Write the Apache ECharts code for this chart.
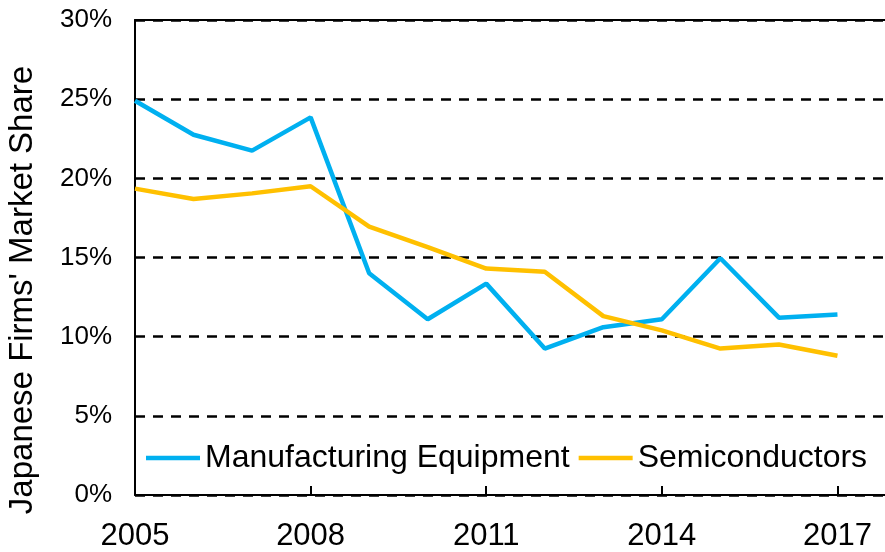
<!DOCTYPE html>
<html>
<head>
<meta charset="utf-8">
<title>Japanese Firms' Market Share</title>
<script src="https://cdn.jsdelivr.net/npm/echarts@6/dist/echarts.min.js"></script>
<style>
  html, body { margin: 0; padding: 0; background: #fff; overflow: hidden; }
  /* a little wider than the window: the frame runs on past the right edge like the original */
  #chart { width: 896px; height: 552px; }
</style>
</head>
<body>
<div id="chart"></div>
<script>
// data
const years = ['2005', '2006', '2007', '2008', '2009', '2010', '2011',
  '2012', '2013', '2014', '2015', '2016', '2017']
const equipment = [24.9, 22.75, 21.75, 23.85, 14.0, 11.1, 13.35, 9.25, 10.6, 11.1, 14.95, 11.2, 11.4]
const semiconductors = [19.35, 18.7, 19.05, 19.5, 16.95, 15.65, 14.3, 14.1, 11.3, 10.4, 9.25, 9.5, 8.8]
const yearTicks = [0, 3, 6, 9, 12] // indexes into years
const yTicks = [0, 5, 10, 15, 20, 25, 30]

const font = 'Liberation Sans, Arial, sans-serif'
const black = '#000'

const chart = echarts.init(document.getElementById('chart'))

// x is the year index; one extra year of room after 2017
const xMax = years.length

chart.setOption({
  backgroundColor: '#fff',
  animation: false,
  textStyle: { fontFamily: font, color: black },
  grid: {
    left: 135,
    top: 20,
    bottom: 57,
    right: 0,
    containLabel: false
  },
  legend: {
    left: 146,
    top: 442,
    padding: 0,
    icon: 'rect',
    itemWidth: 54,
    itemHeight: 4.5,
    itemGap: 9,
    textStyle: { fontSize: 32, color: black, fontFamily: font },
    data: ['Manufacturing Equipment', 'Semiconductors']
  },
  graphic: [{
    type: 'text',
    x: 23,
    y: 290,
    rotation: Math.PI / 2,
    style: {
      text: "Japanese Firms' Market Share",
      font: '33px ' + font,
      fill: black,
      align: 'center',
      verticalAlign: 'middle'
    }
  }],
  xAxis: [
    {
      type: 'value',
      min: 0,
      max: xMax,
      interval: 3,
      axisLine: { lineStyle: { color: black, width: 2 } },
      axisTick: { inside: true, length: 9, customValues: yearTicks, lineStyle: { color: black, width: 2 } },
      axisLabel: {
        customValues: yearTicks,
        fontSize: 31,
        margin: 26,
        color: black,
        formatter: (v) => years[v] || ''
      },
      splitLine: { show: false }
    },
    {
      // top frame line
      type: 'value',
      position: 'top',
      min: 0,
      max: xMax,
      axisLine: { show: true, lineStyle: { color: black, width: 2 } },
      axisTick: { show: false },
      axisLabel: { show: false },
      splitLine: { show: false }
    }
  ],
  yAxis: {
    type: 'value',
    min: yTicks[0],
    max: yTicks[yTicks.length - 1],
    interval: 5,
    axisLine: { show: true, lineStyle: { color: black, width: 2 } },
    axisTick: { show: false },
    axisLabel: { fontSize: 26, margin: 23, color: black, formatter: '{value}%' },
    splitLine: { lineStyle: { color: black, width: 2.5, type: [10, 8] } }
  },
  series: [
    {
      name: 'Manufacturing Equipment',
      type: 'line',
      data: equipment.map((v, i) => [i, v]),
      symbol: 'none',
      color: '#00B0F0',
      lineStyle: { width: 4.5, color: '#00B0F0' }
    },
    {
      name: 'Semiconductors',
      type: 'line',
      data: semiconductors.map((v, i) => [i, v]),
      symbol: 'none',
      color: '#FFC000',
      lineStyle: { width: 4.5, color: '#FFC000' }
    }
  ]
})
</script>
</body>
</html>
